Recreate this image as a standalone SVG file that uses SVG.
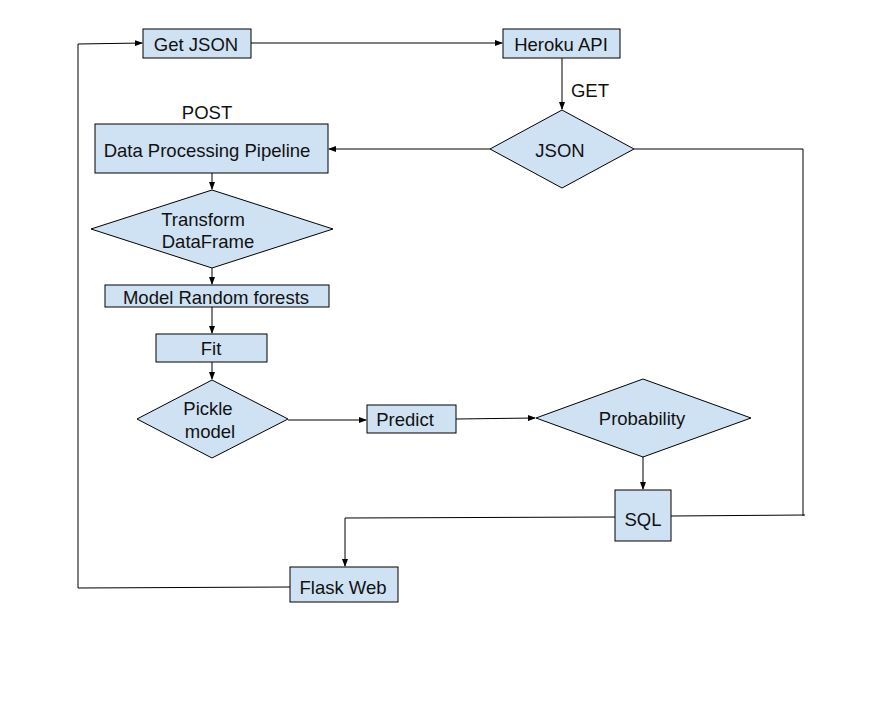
<svg xmlns="http://www.w3.org/2000/svg" width="876" height="720" viewBox="0 0 876 720">
<style>
.n{fill:#cfe2f3;stroke:#000;stroke-width:1}
.t{font-family:"Liberation Sans",Arial,sans-serif;font-size:18.5px;fill:#111;text-anchor:middle;dominant-baseline:central}
.c{fill:none;stroke:#000;stroke-width:1}
</style>
<defs>
<marker id="a" markerWidth="8" markerHeight="6" refX="7" refY="3" orient="auto" markerUnits="userSpaceOnUse">
<path d="M0,0 L8,3 L0,6 Z" fill="#000"/>
</marker>
</defs>
<rect width="876" height="720" fill="#fff"/>
<g id="connectors">
<path class="c" d="M251,43 L502,43" marker-end="url(#a)"/>
<path class="c" d="M562,58 L562,109" marker-end="url(#a)"/>
<path class="c" d="M490,149 L329,149" marker-end="url(#a)"/>
<path class="c" d="M634,149 L803,149 L803,516"/>
<path class="c" d="M212,173 L212,189" marker-end="url(#a)"/>
<path class="c" d="M212,268 L212,284" marker-end="url(#a)"/>
<path class="c" d="M212,307 L212,333" marker-end="url(#a)"/>
<path class="c" d="M212,362 L212,379" marker-end="url(#a)"/>
<path class="c" d="M288,420 L366,420" marker-end="url(#a)"/>
<path class="c" d="M456,419 L535,418" marker-end="url(#a)"/>
<path class="c" d="M643,457 L643,489" marker-end="url(#a)"/>
<path class="c" d="M671,516 L805,515"/>
<path class="c" d="M615,517 L345,518 L345,566" marker-end="url(#a)"/>
<path class="c" d="M290,587 L78,588 L78,44 L142,43" marker-end="url(#a)"/>
</g>
<g id="get-json"><rect class="n" x="143" y="29" width="108" height="29"/><text class="t" x="196" y="44">Get JSON</text></g>
<g id="heroku-api"><rect class="n" x="503" y="29" width="117" height="29"/><text class="t" x="561" y="44">Heroku API</text></g>
<g id="get-label"><text class="t" x="590" y="90">GET</text></g>
<g id="json"><polygon class="n" points="562,110 634,149 562,188 490,149"/><text class="t" x="560" y="150">JSON</text></g>
<g id="post-label"><text class="t" x="207" y="112">POST</text></g>
<g id="pipeline"><rect class="n" x="95" y="124" width="233" height="49"/><text class="t" x="207" y="150">Data Processing Pipeline</text></g>
<g id="transform"><polygon class="n" points="212,190 333,229 212,268 91,229"/><text class="t" x="203" y="219">Transform</text><text class="t" x="208" y="241">DataFrame</text></g>
<g id="model"><rect class="n" x="105" y="285" width="224" height="22"/><text class="t" x="216" y="297">Model Random forests</text></g>
<g id="fit"><rect class="n" x="156" y="334" width="111" height="28"/><text class="t" x="211" y="348">Fit</text></g>
<g id="pickle"><polygon class="n" points="212,380 288,419 212,458 137,419"/><text class="t" x="208" y="408">Pickle</text><text class="t" x="210" y="431">model</text></g>
<g id="predict"><rect class="n" x="367" y="405" width="89" height="28"/><text class="t" x="405" y="419">Predict</text></g>
<g id="probability"><polygon class="n" points="643,379 751,418 643,457 536,418"/><text class="t" x="642" y="418">Probability</text></g>
<g id="sql"><rect class="n" x="615" y="490" width="56" height="51"/><text class="t" x="643" y="519">SQL</text></g>
<g id="flask"><rect class="n" x="290" y="567" width="108" height="35"/><text class="t" x="343" y="587">Flask Web</text></g>
</svg>
